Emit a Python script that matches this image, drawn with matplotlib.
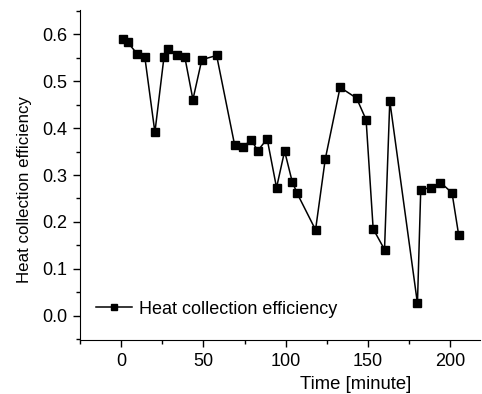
import numpy as np
import matplotlib.pyplot as plt
from matplotlib.ticker import MultipleLocator

plt.rcParams['font.family'] = ['Liberation Sans', 'DejaVu Sans']

# time [minute] and heat collection efficiency
time = [1, 4, 9.6, 14.4, 20.5, 26, 28.4, 33.9, 38.7, 43.6, 49, 58, 69,
        74.1, 79, 83, 88.7, 94.4, 99.3, 103.9, 106.9, 118.1, 124, 133,
        143, 148.8, 153.1, 160, 163.2, 180, 182, 188.2, 194, 201, 205]
eff = [0.591, 0.583, 0.559, 0.551, 0.391, 0.551, 0.568, 0.555, 0.551,
       0.461, 0.546, 0.555, 0.363, 0.360, 0.375, 0.352, 0.377, 0.273,
       0.351, 0.286, 0.261, 0.183, 0.334, 0.487, 0.464, 0.418, 0.185,
       0.141, 0.458, 0.026, 0.269, 0.273, 0.284, 0.262, 0.173]

fig = plt.figure(figsize=(4.82, 3.94), dpi=100)
ax = fig.add_axes([80/482, 54/394, 400/482, 330/394])

ax.plot(time, eff, '-s', color='black', lw=1.1, markersize=5.6,
        label='Heat collection efficiency')

ax.set_xlim(-25, 218)
ax.set_ylim(-0.052, 0.652)
ax.xaxis.set_major_locator(MultipleLocator(50))
ax.xaxis.set_minor_locator(MultipleLocator(25))
ax.yaxis.set_major_locator(MultipleLocator(0.1))
ax.yaxis.set_minor_locator(MultipleLocator(0.05))
ax.yaxis.set_major_formatter(plt.FormatStrFormatter('%.1f'))

ax.spines['top'].set_visible(False)
ax.spines['right'].set_visible(False)
ax.tick_params(which='major', direction='out', length=5, width=1,
               labelsize=13, pad=4)
ax.tick_params(which='minor', direction='out', length=3, width=1)

ax.set_xlabel('Time [minute]', fontsize=13.3)
ax.xaxis.set_label_coords(0.69, -0.11)
ax.set_ylabel('Heat collection efficiency', fontsize=12.2)
ax.yaxis.set_label_coords(-0.12, 0.455)

ax.legend(loc='lower left', frameon=False, fontsize=13, handlelength=2.0,
          handletextpad=0.35, markerscale=0.7, bbox_to_anchor=(0.0, 0.018))

fig.savefig('out.png', dpi=100)
